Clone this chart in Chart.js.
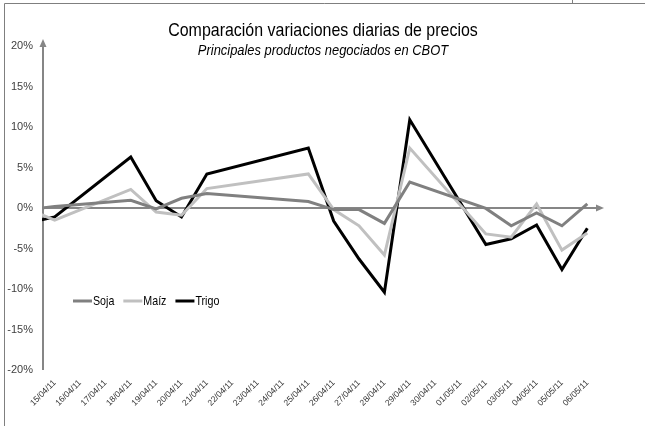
<!DOCTYPE html>
<html lang="es">
<head>
    <meta charset="UTF-8">
    <title>Comparación variaciones diarias de precios</title>
    <script src="https://cdn.jsdelivr.net/npm/chart.js@4.4.1/dist/chart.umd.min.js"></script>
    <style>
        body { margin: 0; background: #fff; }
    </style>
</head>
<body>
    <canvas id="preciosChart" width="645" height="426"></canvas>

    <script>
        // Fechas (14/04 queda fuera del eje, solo para el tramo inicial)
        const fechas = [
            '14/04/11', '15/04/11', '16/04/11', '17/04/11', '18/04/11', '19/04/11', '20/04/11',
            '21/04/11', '22/04/11', '23/04/11', '24/04/11', '25/04/11', '26/04/11', '27/04/11',
            '28/04/11', '29/04/11', '30/04/11', '01/05/11', '02/05/11', '03/05/11', '04/05/11',
            '05/05/11', '06/05/11'
        ];

        // Variaciones diarias en %, null = sin cotizacion
        const soja = [-0.2, 0.2, null, null, 0.95, -0.1, 1.2, 1.8, null, null, null, 0.8, -0.2, -0.2,
            -1.9, 3.2, null, null, -0.05, -2.2, -0.6, -2.2, 0.5];
        const maiz = [-0.2, -1.5, null, null, 2.3, -0.5, -0.9, 2.4, null, null, null, 4.2, -0.2, -2.2,
            -5.8, 7.4, null, null, -3.2, -3.6, 0.5, -5.2, -3.1];
        const trigo = [-1.8, -1.1, null, null, 6.3, 0.9, -1.1, 4.2, null, null, null, 7.4, -1.6, -6.3,
            -10.4, 10.9, null, null, -4.5, -3.8, -2.1, -7.6, -2.5];

        const yTicks = [-20, -15, -10, -5, 0, 5, 10, 15, 20];

        const FONT = "'Liberation Sans', Arial, sans-serif";
        const AXIS_GRAY = '#868686';

        // texto "estrecho" (imita Arial Narrow escalando en horizontal)
        function narrowText(ctx, text, x, y, font, sx, align) {
            ctx.save();
            ctx.font = font;
            ctx.textBaseline = 'middle';
            ctx.textAlign = 'left';
            const w = ctx.measureText(text).width * sx;
            let left = x;
            if (align === 'center') left = x - w / 2;
            ctx.translate(left, y);
            ctx.scale(sx, 1);
            ctx.fillText(text, 0, 0);
            ctx.restore();
            return w;
        }

        // Ejes con flecha, marco, titulo y leyenda al estilo Excel
        const excelLook = {
            id: 'excelLook',
            beforeDatasetsDraw(chart) {
                const ctx = chart.ctx;
                const area = chart.chartArea;
                const y0 = chart.scales.y.getPixelForValue(0);
                ctx.save();
                ctx.strokeStyle = AXIS_GRAY;
                ctx.fillStyle = AXIS_GRAY;
                ctx.lineWidth = 2;
                // eje vertical
                ctx.beginPath();
                ctx.moveTo(area.left + 1, area.bottom);
                ctx.lineTo(area.left + 1, area.top - 1);
                ctx.stroke();
                ctx.beginPath();
                ctx.moveTo(area.left + 1, area.top - 7);
                ctx.lineTo(area.left - 2.5, area.top + 1);
                ctx.lineTo(area.left + 4.5, area.top + 1);
                ctx.fill();
                // eje horizontal en 0
                ctx.beginPath();
                ctx.moveTo(area.left, y0);
                ctx.lineTo(area.right - 2, y0);
                ctx.stroke();
                ctx.beginPath();
                ctx.moveTo(area.right + 4, y0);
                ctx.lineTo(area.right - 4, y0 - 3.5);
                ctx.lineTo(area.right - 4, y0 + 3.5);
                ctx.fill();
                ctx.restore();
            },
            afterDraw(chart) {
                const ctx = chart.ctx;
                ctx.save();
                // marco
                ctx.strokeStyle = '#7f7f7f';
                ctx.lineWidth = 1;
                ctx.beginPath();
                ctx.moveTo(4.5, 426);
                ctx.lineTo(4.5, 3.5);
                ctx.lineTo(645, 3.5);
                ctx.moveTo(572.5, 0);
                ctx.lineTo(572.5, 3.5);
                ctx.stroke();

                // titulos
                ctx.fillStyle = '#000';
                narrowText(ctx, 'Comparación variaciones diarias de precios', 323, 31,
                    '19px ' + FONT, 0.84, 'center');
                narrowText(ctx, 'Principales productos negociados en CBOT', 323, 51,
                    'italic 15px ' + FONT, 0.86, 'center');

                // leyenda
                let x = 73;
                const y = 301;
                chart.data.datasets.forEach(ds => {
                    ctx.strokeStyle = ds.borderColor;
                    ctx.lineWidth = 3;
                    ctx.beginPath();
                    ctx.moveTo(x, y);
                    ctx.lineTo(x + 19, y);
                    ctx.stroke();
                    ctx.fillStyle = '#000';
                    const w = narrowText(ctx, ds.label, x + 20, y + 0.5, '13px ' + FONT, 0.82, 'left');
                    x += 20 + w + 9;
                });
                ctx.restore();
            }
        };

        const ctx = document.getElementById('preciosChart').getContext('2d');
        new Chart(ctx, {
            type: 'line',
            data: {
                labels: fechas,
                datasets: [
                    { label: 'Soja', data: soja, borderColor: '#808080' },
                    { label: 'Maíz', data: maiz, borderColor: '#c0c0c0' },
                    { label: 'Trigo', data: trigo, borderColor: '#000000' }
                ]
            },
            options: {
                responsive: false,
                animation: false,
                devicePixelRatio: 1,
                spanGaps: true,
                layout: { padding: { top: 46, right: 45, left: 0, bottom: 0 } },
                datasets: {
                    line: {
                        borderWidth: 3,
                        pointRadius: 0,
                        tension: 0,
                        clip: { left: 0, right: 5, top: 5, bottom: 5 }
                    }
                },
                scales: {
                    x: {
                        type: 'category',
                        min: '15/04/11',
                        offset: true,
                        grid: { display: false },
                        border: { display: false },
                        afterFit(scale) { scale.height = 56; },
                        ticks: {
                            autoSkip: false,
                            minRotation: 45,
                            maxRotation: 45,
                            padding: 0,
                            color: '#333333',
                            font: { family: FONT, size: 8.5 }
                        }
                    },
                    y: {
                        min: -20,
                        max: 20,
                        grid: { display: false },
                        border: { display: false },
                        afterFit(scale) { scale.width = 42; },
                        afterBuildTicks(scale) {
                            scale.ticks = yTicks.map(v => ({ value: v }));
                        },
                        ticks: {
                            padding: 1,
                            color: '#404040',
                            font: { family: FONT, size: 11 },
                            callback: v => v + '%'
                        }
                    }
                },
                plugins: {
                    legend: { display: false },
                    title: { display: false },
                    tooltip: { enabled: false }
                }
            },
            plugins: [excelLook]
        });
    </script>
</body>
</html>
